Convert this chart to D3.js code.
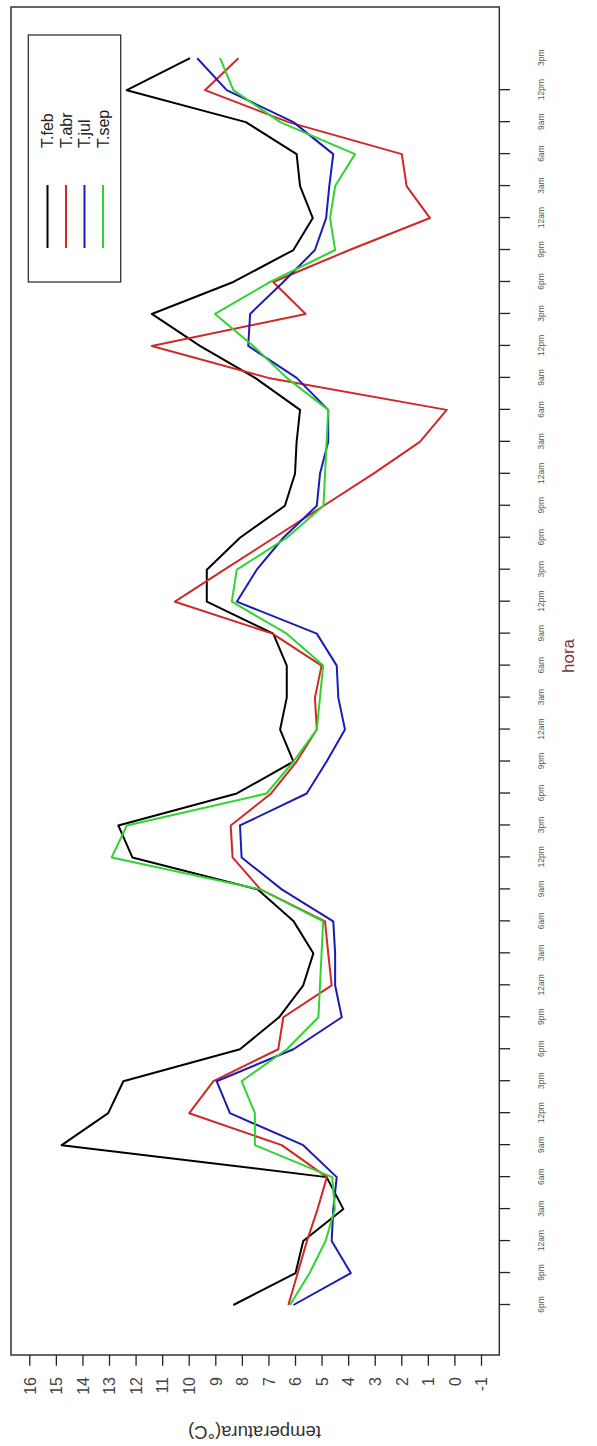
<!DOCTYPE html>
<html>
<head>
<meta charset="utf-8">
<script src="https://cdn.jsdelivr.net/npm/d3@7"></script>
<style>
  html, body { margin: 0; padding: 0; background: #fff; }
  svg { display: block; }
  text { font-family: "Liberation Sans", Arial, Helvetica, sans-serif; }
</style>
</head>
<body>
<svg id="chart" width="597" height="1446"></svg>
<script>
// ---- data (3-hourly, starting 6pm) ----
const hourLabels = ["6pm","9pm","12am","3am","6am","9am","12pm","3pm"];
const tempTicks = [-1,0,1,2,3,4,5,6,7,8,9,10,11,12,13,14,15,16];
const seriesNames = ["T.feb","T.abr","T.jul","T.sep"];
const seriesColors = ["#000000","#d02828","#1c1cb4","#2fd42f"];

const tFeb = [8.32,5.98,5.69,4.18,4.81,14.78,13.03,12.46,8.07,6.6,
              5.69,5.31,6.05,7.4,12.12,12.65,8.19,6.06,6.56,6.31,
              6.31,6.82,9.32,9.32,8.07,6.38,6.0,5.94,5.81,7.5,
              9.58,11.39,8.32,6.06,5.33,5.81,5.94,7.85,12.33,9.95];
const tAbr = [6.25,5.9,5.55,5.15,4.8,6.5,9.98,9.07,6.63,6.44,
              4.62,4.75,4.87,7.3,8.35,8.42,6.9,5.94,5.18,5.25,
              5.0,6.85,10.52,8.66,6.79,4.92,3.06,1.3,0.29,7.0,
              11.39,5.6,6.82,3.95,0.92,1.8,1.98,6.25,9.39,8.13];
const tJul = [6.06,3.9,4.62,4.56,4.43,5.69,8.45,8.95,6.06,4.24,
              4.49,4.49,4.56,6.5,8.01,8.07,5.56,4.81,4.12,4.37,
              4.43,5.18,8.19,7.44,6.44,5.18,5.06,4.75,4.75,5.94,
              7.76,7.69,6.44,5.25,4.83,4.71,4.56,6.06,8.57,9.68];
const tSep = [6.19,5.45,4.85,4.5,4.6,7.51,7.51,8.01,6.31,5.12,
              5.06,5.0,4.94,7.3,12.9,12.33,7.07,6.06,5.18,5.06,
              4.94,6.31,8.38,8.19,6.31,4.93,4.87,4.81,4.75,6.31,
              7.57,9.01,6.94,4.49,4.68,4.49,3.74,6.56,8.32,8.82];
const allSeries = [tFeb, tAbr, tJul, tSep];

// ---- layout (drawn in landscape, then rotated onto the portrait page) ----
const W = 1446, H = 597;
const box = {x0: 91, x1: 1439, y0: 11, y1: 499.3};

const svg = d3.select("#chart");
svg.append("rect").attr("width", 597).attr("height", 1446).attr("fill", "#fff");
const g = svg.append("g").attr("transform", `translate(0,${W}) rotate(-90)`);

const x = d3.scaleLinear().domain([0, 39]).range([141, 1387.8]);
const y = d3.scaleLinear().domain([-1, 16]).range([481, 29.3]);

// lines
const line = d3.line().x((d, i) => x(i)).y(d => y(d));
allSeries.forEach((s, k) => {
  g.append("path")
    .datum(s)
    .attr("d", line)
    .attr("fill", "none")
    .attr("stroke", seriesColors[k])
    .attr("stroke-width", 2)
    .attr("stroke-linejoin", "round");
});

// box
g.append("rect")
  .attr("x", box.x0).attr("y", box.y0)
  .attr("width", box.x1 - box.x0).attr("height", box.y1 - box.y0)
  .attr("fill", "none").attr("stroke", "#333").attr("stroke-width", 1.5);

// time axis (bottom in landscape = right side on page)
const xAxis = d3.axisBottom(x)
  .tickValues(d3.range(40))
  .tickFormat(i => hourLabels[i % hourLabels.length])
  .tickSize(10.7);
const gx = g.append("g").attr("transform", `translate(0,${box.y1})`).call(xAxis);
gx.select(".domain").remove();
gx.selectAll(".tick line").attr("stroke", "#222").attr("stroke-width", 1.3);
gx.selectAll(".tick").filter(d => d === 39).select("line").remove();
gx.selectAll(".tick text")
  .attr("y", 41.7).attr("dy", "0.35em")
  .attr("font-size", 8.5).attr("fill", "#555")
  .style("font-family", "'Liberation Sans', Arial, sans-serif");

// temperature axis (left in landscape = bottom on page)
const yAxis = d3.axisLeft(y)
  .tickValues(tempTicks)
  .tickFormat(d => String(d))
  .tickSize(10.7);
const gy = g.append("g").attr("transform", `translate(${box.x0},0)`).call(yAxis);
gy.select(".domain").remove();
gy.selectAll(".tick line").attr("stroke", "#222").attr("stroke-width", 1.3);
gy.selectAll(".tick text")
  .attr("x", -22).attr("dy", "0.36em")
  .attr("font-size", 16).attr("fill", "#444")
  .style("font-family", "'Liberation Sans', Arial, sans-serif");

// axis titles
g.append("text")
  .attr("transform", `translate(14,254.5) rotate(-90)`)
  .attr("text-anchor", "middle").attr("dominant-baseline", "central")
  .attr("font-size", 18.5).attr("fill", "#333")
  .text("temperatura(°C)");
g.append("text")
  .attr("x", 790).attr("y", 568)
  .attr("text-anchor", "middle").attr("dominant-baseline", "central")
  .attr("font-size", 17).attr("fill", "#7a3434")
  .text("hora");

// legend
const lg = g.append("g");
lg.append("rect")
  .attr("x", 1164).attr("y", 28.3).attr("width", 247).attr("height", 92.4)
  .attr("fill", "#fff").attr("stroke", "#333").attr("stroke-width", 1.3);
seriesNames.forEach((name, k) => {
  const yy = 47.5 + 18.5 * k;
  lg.append("line")
    .attr("x1", 1198).attr("x2", 1261).attr("y1", yy).attr("y2", yy)
    .attr("stroke", seriesColors[k]).attr("stroke-width", 2);
  lg.append("text")
    .attr("x", 1298).attr("y", yy).attr("dy", "0.36em")
    .attr("font-size", 16).attr("fill", "#222")
    .text(name);
});
</script>
</body>
</html>
